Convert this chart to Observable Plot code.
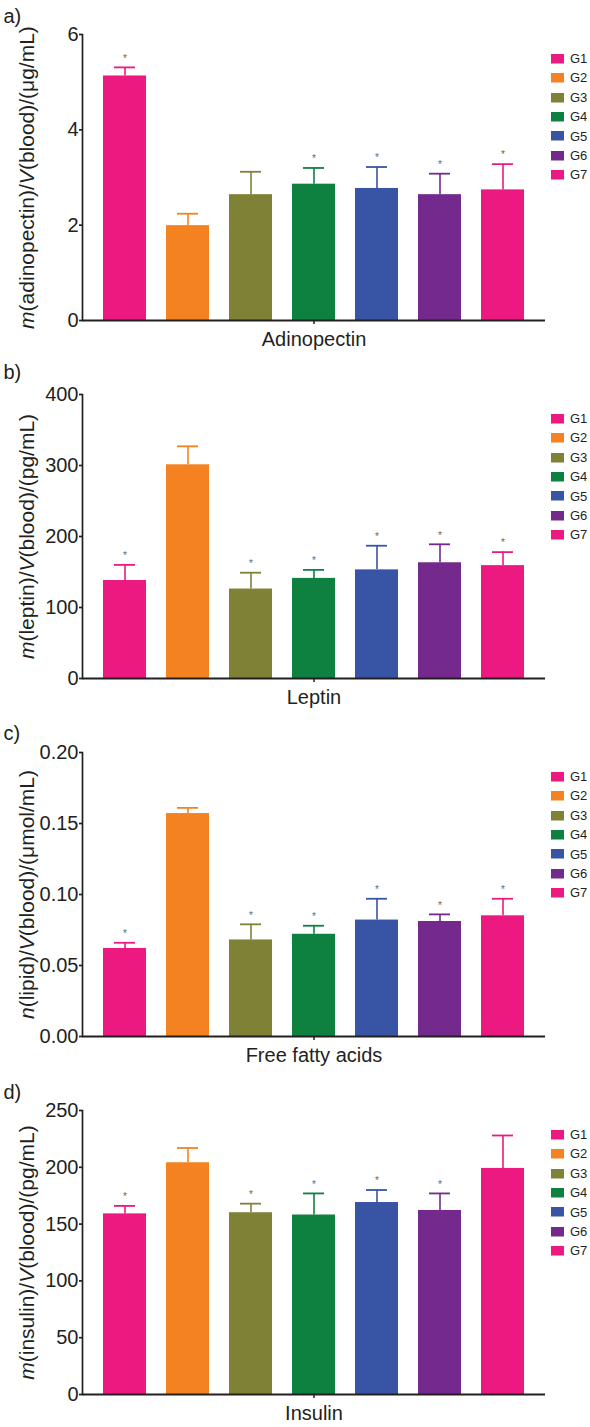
<!DOCTYPE html>
<html><head><meta charset="utf-8">
<script src="https://cdn.jsdelivr.net/npm/d3@7"></script>
<script src="https://cdn.jsdelivr.net/npm/@observablehq/plot@0.6"></script>
<style>
body{margin:0;background:#fff;}
#root{position:relative;width:590px;}
.panel{position:relative;width:590px;}
.panel > svg{display:block;}
.lgwrap{position:absolute;left:550.5px;}
.lgwrap *{font-family:"Liberation Sans",Arial,sans-serif !important;font-size:13px !important;color:#231F20;}
.lg-swatches{margin:0 !important;}
.lg-swatch{height:19.4px;padding:0 !important;margin:0 !important;display:flex;align-items:center;}
.lg-swatch > svg{margin-right:6.5px !important;}
</style></head><body><div id="root"></div>
<script>
const groups = ["G1","G2","G3","G4","G5","G6","G7"];
const colors = ["#EC1A80","#F48221","#7F8136","#0E8141","#3854A4","#732A8C","#EC1A80"];

const adinopectinMean = [5.13, 1.99, 2.64, 2.86, 2.77, 2.64, 2.74];
const adinopectinSD   = [0.18, 0.25, 0.48, 0.34, 0.45, 0.44, 0.54];
const adinopectinSig  = [true, false, false, true, true, true, true];

const leptinMean = [138, 301, 126, 141, 153, 163, 159];
const leptinSD   = [22, 26, 23, 12, 34, 26, 19];
const leptinSig  = [true, false, true, true, true, true, true];

const ffaMean = [0.062, 0.157, 0.068, 0.072, 0.082, 0.081, 0.085];
const ffaSD   = [0.004, 0.004, 0.011, 0.006, 0.015, 0.005, 0.012];
const ffaSig  = [true, false, true, true, true, true, true];

const insulinMean = [159, 204, 160, 158, 169, 162, 199];
const insulinSD   = [7, 13, 8, 19, 11, 15, 29];
const insulinSig  = [true, false, true, true, true, true, false];

const adinopectinTicks = [0, 2, 4, 6];
const leptinTicks = [0, 100, 200, 300, 400];
const ffaTicks = [0, 0.05, 0.10, 0.15, 0.20];
const insulinTicks = [0, 50, 100, 150, 200, 250];

const panels = [
  {tag:"a)", title:"Adinopectin", mean:adinopectinMean, sd:adinopectinSD, sig:adinopectinSig, domain:[0,6], ticks:adinopectinTicks, fmt:d=>String(d),
   label:["m","(adinopectin)/","V","(blood)/(μg/mL)"], height:358, top:34, bottom:38, tagDy:-18},
  {tag:"b)", title:"Leptin", mean:leptinMean, sd:leptinSD, sig:leptinSig, domain:[0,400], ticks:leptinTicks, fmt:d=>String(d),
   label:["m","(leptin)/","V","(blood)/(pg/mL)"], height:358, top:36, bottom:38, tagDy:-22},
  {tag:"c)", title:"Free fatty acids", mean:ffaMean, sd:ffaSD, sig:ffaSig, domain:[0,0.2], ticks:ffaTicks, fmt:d=>d.toFixed(2),
   label:["n","(lipid)/","V","(blood)/(μmol/mL)"], height:358, top:36, bottom:38, tagDy:-19},
  {tag:"d)", title:"Insulin", mean:insulinMean, sd:insulinSD, sig:insulinSig, domain:[0,250], ticks:insulinTicks, fmt:d=>String(d),
   label:["m","(insulin)/","V","(blood)/(pg/mL)"], height:353, top:36, bottom:33, tagDy:-18}
];

const ink = "#231F20";
const font = '"Liberation Sans", Arial, sans-serif';
const root = document.getElementById("root");

for (const cfg of panels) {
  const data = groups.map((g, i) => ({group: g, mean: cfg.mean[i], sd: cfg.sd[i], sig: cfg.sig[i]}));
  const chart = Plot.plot({
    width: 590, height: cfg.height,
    marginTop: cfg.top, marginBottom: cfg.bottom, marginLeft: 82, marginRight: 45,
    style: {fontFamily: font, color: ink, background: "white", overflow: "visible"},
    x: {domain: groups, paddingInner: 0.32, paddingOuter: 0.16, insetLeft: 11, insetRight: 11, axis: null},
    y: {domain: cfg.domain, axis: null},
    color: {domain: groups, range: colors},
    marks: [
      Plot.barY(data, {x: "group", y: "mean", fill: "group"}),
      Plot.ruleX(data, {x: "group", y1: "mean", y2: d => d.mean + d.sd, stroke: "group", strokeWidth: 1.6}),
      Plot.tickY(data, {x: "group", y: d => d.mean + d.sd, stroke: "group", strokeWidth: 1.8, insetLeft: 11, insetRight: 11}),
      Plot.text(data.filter(d => d.sig), {x: "group", y: d => d.mean + d.sd, text: () => "*", dy: -9, fontSize: 10, fill: "#666"}),
      Plot.frame({anchor: "left", stroke: ink, strokeWidth: 1.7}),
      Plot.axisY({ticks: cfg.ticks, tickFormat: cfg.fmt, tickSize: 3, tickPadding: 1, fontSize: 20,
        stroke: ink, strokeWidth: 1.7, label: cfg.label.join(""), labelAnchor: "center", labelOffset: 63}),
      Plot.ruleY([0], {stroke: ink, strokeWidth: 1.8}),
      Plot.axisX(["G4"], {tickSize: 4, tickFormat: () => "", label: null, stroke: ink, strokeWidth: 1.5}),
      Plot.text([cfg.title], {frameAnchor: "bottom", lineAnchor: "bottom", dy: 25, fontSize: 20, fill: ink}),
      Plot.text([cfg.tag], {frameAnchor: "top-left", textAnchor: "start", lineAnchor: "middle", dx: -79, dy: cfg.tagDy, fontSize: 20, fill: ink})
    ]
  });
  const lab = chart.querySelector('g[aria-label="y-axis label"] text');
  if (lab) {
    const [a, b, c, d] = cfg.label;
    lab.innerHTML = `<tspan font-style="italic">${a}</tspan>${b}<tspan font-style="italic">${c}</tspan>${d}`;
    lab.setAttribute("font-size", "21");
  }
  const div = document.createElement("div");
  div.className = "panel";
  div.style.height = cfg.height + "px";
  div.appendChild(chart);
  const lg = Plot.legend({color: {domain: groups, range: colors}, legend: "swatches", columns: 1,
    swatchWidth: 13, swatchHeight: 9.5, className: "lg", style: {fontSize: "13px", fontFamily: font, color: ink}});
  const wrap = document.createElement("div");
  wrap.className = "lgwrap";
  wrap.style.top = (cfg.top + 24.5 - 9.7) + "px";
  wrap.appendChild(lg);
  div.appendChild(wrap);
  root.appendChild(div);
}
</script></body></html>
